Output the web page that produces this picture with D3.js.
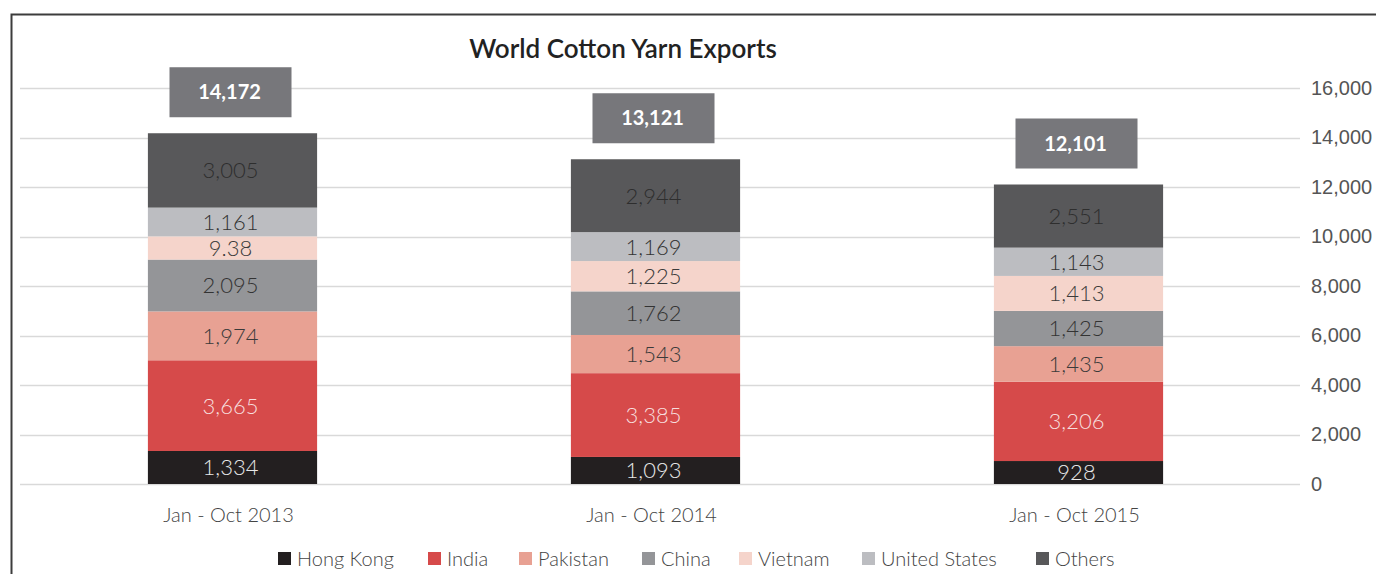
<!DOCTYPE html>
<html>
<head>
<meta charset="utf-8">
<script src="https://cdn.jsdelivr.net/npm/d3@7"></script>
<style>
  body { margin: 0; background: #fff; }
  svg { display: block; font-family: Lato, "Open Sans", sans-serif; }
</style>
</head>
<body>
<script>
// Chart data
const periods = ['Jan - Oct 2013', 'Jan - Oct 2014', 'Jan - Oct 2015'];
const countries = ['Hong Kong', 'India', 'Pakistan', 'China', 'Vietnam', 'United States', 'Others'];
const hongKong = [1334, 1093, 928];
const india = [3665, 3385, 3206];
const pakistan = [1974, 1543, 1435];
const china = [2095, 1762, 1425];
const vietnam = [938, 1225, 1413];
const unitedStates = [1161, 1169, 1143];
const others = [3005, 2944, 2551];
const totals = [14172, 13121, 12101];
// the source prints Vietnam 2013 as "9.38"
const labelOverrides = { 'Vietnam|Jan - Oct 2013': '9.38' };
const yTicks = [0, 2000, 4000, 6000, 8000, 10000, 12000, 14000, 16000];

const colors = ['#231f20', '#d64a4a', '#e8a193', '#949598', '#f5d4cb', '#bcbdc1', '#58585a'];
const textColors = ['#e8e8e8', '#f6dede', '#3a3a3a', '#333', '#3a3a3a', '#333', '#2e2e2e'];

const series = [hongKong, india, pakistan, china, vietnam, unitedStates, others];
const rows = periods.map((p, i) => {
    const r = { period: p };
    countries.forEach((c, j) => r[c] = series[j][i]);
    return r;
});

const W = 1376, H = 574;
const svg = d3.select('body').append('svg').attr('width', W).attr('height', H);

// frame
svg.append('path')
    .attr('d', `M11.5,${H} V14.5 H${W}`)
    .attr('fill', 'none').attr('stroke', '#3c3c3c').attr('stroke-width', 2);

const x = d3.scaleBand().domain(periods).range([21, 1290]).paddingInner(0.6).paddingOuter(0.3);
const y = d3.scaleLinear().domain([0, 16000]).range([484, 88]);

// grid + right axis
const yAxis = svg.append('g')
    .attr('transform', 'translate(1300,0)')
    .call(d3.axisRight(y).tickValues(yTicks).tickSize(0).tickPadding(11).tickFormat(d3.format(',')));
yAxis.select('.domain').remove();
yAxis.selectAll('text').attr('fill', '#555').style('font-size', '20px').style('font-weight', 300);

svg.append('g').selectAll('line').data(yTicks).enter().append('line')
    .attr('x1', 20).attr('x2', 1300)
    .attr('y1', d => Math.round(y(d)) + 0.5).attr('y2', d => Math.round(y(d)) + 0.5)
    .attr('stroke', '#d9d9d9').attr('stroke-width', 1.5);

const stacked = d3.stack().keys(countries)(rows);

const layers = svg.append('g').selectAll('g').data(stacked).enter().append('g')
    .attr('fill', (d, i) => colors[i]);

layers.selectAll('rect').data(d => d).enter().append('rect')
    .attr('x', d => x(d.data.period))
    .attr('width', x.bandwidth())
    .attr('y', d => y(d[1]))
    .attr('height', d => y(d[0]) - y(d[1]));

layers.each(function (layer, i) {
    d3.select(this).selectAll('text').data(layer).enter().append('text')
        .attr('x', d => x(d.data.period) + x.bandwidth() / 2 - 2)
        .attr('y', d => (y(d[0]) + y(d[1])) / 2)
        .attr('dy', '0.36em')
        .attr('text-anchor', 'middle')
        .attr('fill', textColors[i])
        .style('font-size', '22px')
        .style('font-weight', 300)
        .text(d => labelOverrides[layer.key + '|' + d.data.period] || d3.format(',')(d[1] - d[0]));
});

// total boxes
const tot = svg.append('g').selectAll('g').data(periods).enter().append('g');
tot.append('rect')
    .attr('x', d => x(d) + x.bandwidth() / 2 - 63)
    .attr('width', 122)
    .attr('y', (d, i) => y(totals[i]) - 66)
    .attr('height', 50)
    .attr('fill', '#77777b');
tot.append('text')
    .attr('x', d => x(d) + x.bandwidth() / 2 - 3)
    .attr('y', (d, i) => y(totals[i]) - 41)
    .attr('dy', '0.36em')
    .attr('text-anchor', 'middle')
    .attr('fill', '#fff')
    .style('font-size', '20px')
    .style('font-weight', 700)
    .text((d, i) => d3.format(',')(totals[i]));

// x labels
svg.append('g').selectAll('text').data(periods).enter().append('text')
    .attr('x', d => x(d) + x.bandwidth() / 2 - 4)
    .attr('y', 522)
    .attr('text-anchor', 'middle')
    .attr('fill', '#444')
    .style('font-size', '20px')
    .style('font-weight', 300)
    .text(d => d);

// title
svg.append('text')
    .attr('x', 623).attr('y', 58)
    .attr('text-anchor', 'middle')
    .attr('fill', '#222')
    .style('font-size', '26px')
    .style('font-weight', 600)
    .text('World Cotton Yarn Exports');

// legend
const legendX = [278, 428, 519, 642, 739, 862, 1036];
const legend = svg.append('g').selectAll('g').data(countries).enter().append('g')
    .attr('transform', (d, i) => `translate(${legendX[i]},552)`);
legend.append('rect').attr('width', 13).attr('height', 13).attr('fill', (d, i) => colors[i]);
legend.append('text')
    .attr('x', 19).attr('y', 7).attr('dy', '0.36em')
    .attr('fill', '#444')
    .style('font-size', '20px')
    .style('font-weight', 300)
    .text(d => d);
</script>
</body>
</html>
